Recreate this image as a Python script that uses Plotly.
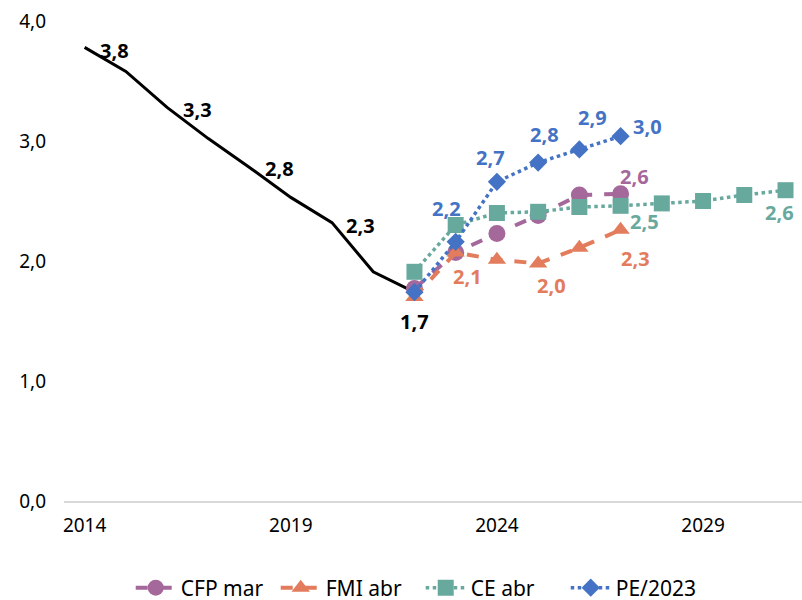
import plotly.graph_objects as go

# ---- data ----
hist_years = [2014, 2015, 2016, 2017, 2018, 2019, 2020, 2021, 2022]
hist_vals = [3.78, 3.58, 3.28, 3.02, 2.78, 2.53, 2.32, 1.91, 1.74]

cfp_years = [2022, 2023, 2024, 2025, 2026, 2027]
cfp_vals = [1.77, 2.07, 2.23, 2.38, 2.55, 2.56]

fmi_years = [2022, 2023, 2024, 2025, 2026, 2027]
fmi_vals = [1.70, 2.07, 2.01, 1.98, 2.11, 2.26]

ce_years = [2022, 2023, 2024, 2025, 2026, 2027, 2028, 2029, 2030, 2031]
ce_vals = [1.91, 2.30, 2.40, 2.41, 2.45, 2.46, 2.48, 2.50, 2.55, 2.59]

pe_years = [2022, 2023, 2024, 2025, 2026, 2027]
pe_vals = [1.74, 2.16, 2.66, 2.82, 2.93, 3.04]

x_ticks = [2014, 2019, 2024, 2029]
y_ticks = [0, 1, 2, 3, 4]

FONT = "Noto Sans"
C_BLACK = "#000000"
C_CFP = "#A5689B"
C_FMI = "#E27C5C"
C_CE = "#68A99E"
C_PE = "#4472C4"

fig = go.Figure()

fig.add_trace(go.Scatter(x=hist_years, y=hist_vals, mode="lines",
                         line=dict(color=C_BLACK, width=3), showlegend=False,
                         hoverinfo="skip"))
fig.add_trace(go.Scatter(x=cfp_years, y=cfp_vals, mode="lines+markers", name="CFP mar",
                         line=dict(color=C_CFP, width=4, dash="dash"),
                         marker=dict(symbol="circle", size=17, color=C_CFP)))
fig.add_trace(go.Scatter(x=fmi_years, y=fmi_vals, mode="lines+markers", name="FMI abr",
                         line=dict(color=C_FMI, width=4, dash="dash"),
                         marker=dict(symbol="triangle-up", size=16, color=C_FMI)))
fig.add_trace(go.Scatter(x=ce_years, y=ce_vals, mode="lines+markers", name="CE abr",
                         line=dict(color=C_CE, width=3.5, dash="dot"),
                         marker=dict(symbol="square", size=16, color=C_CE)))
fig.add_trace(go.Scatter(x=pe_years, y=pe_vals, mode="lines+markers", name="PE/2023",
                         line=dict(color=C_PE, width=3.5, dash="dot"),
                         marker=dict(symbol="diamond", size=14, color=C_PE)))

def fmt(v):
    return f"{v:.1f}".replace(".", ",")

# label placements: (series years, values, color, {year: (xshift, yshift)})
label_specs = [
    (hist_years, hist_vals, C_BLACK, {2014: (30, -3), 2016: (30, -2), 2018: (30, -1), 2020: (29, -3), 2022: (0, -29)}),
    (cfp_years, cfp_vals, C_CFP, {2027: (14, 17)}),
    (fmi_years, fmi_vals, C_FMI, {2023: (12, -24), 2025: (13, -22), 2027: (15, -29)}),
    (ce_years, ce_vals, C_CE, {2027: (24, -16), 2031: (-6, -22)}),
    (pe_years, pe_vals, C_PE, {2023: (-9, 33), 2024: (-6, 24), 2025: (6, 28), 2026: (13, 32), 2027: (27, 10)}),
]
for yrs, vals, col, places in label_specs:
    for yr, v in zip(yrs, vals):
        if yr in places:
            dx, dy = places[yr]
            fig.add_annotation(x=yr, y=v, text=f"<b>{fmt(v)}</b>", showarrow=False,
                               xshift=dx, yshift=dy,
                               font=dict(family=FONT, size=20, color=col))

fig.update_layout(
    width=802, height=600,
    margin=dict(l=64, r=0, t=21, b=99, autoexpand=False),
    paper_bgcolor="white", plot_bgcolor="white",
    separators=",.",
    font=dict(family=FONT, size=19, color="#000000"),
    showlegend=True,
    legend=dict(orientation="h", xref="container", x=0.163, xanchor="left",
                yref="container", y=0.02, yanchor="middle",
                itemwidth=40, entrywidth=90, entrywidthmode="pixels",
                font=dict(family=FONT, size=21), tracegroupgap=0),
)
fig.update_xaxes(range=[2013.5, 2031.4], tickvals=x_ticks, ticktext=[str(t) for t in x_ticks],
                 showgrid=False, zeroline=False, showline=True, linecolor="#D9D9D9", linewidth=1.5,
                 ticks="", ticklabelstandoff=6, automargin=False, tickfont=dict(family=FONT, size=19))
fig.update_yaxes(range=[0, 4], tickvals=y_ticks, tickformat=".1f", showgrid=False,
                 zeroline=False, showline=False, ticks="", ticklabelstandoff=17, automargin=False,
                 tickfont=dict(family=FONT, size=19))

fig.write_html("out.html", config={"displayModeBar": False},
               post_script="document.body.style.margin='0';document.body.style.padding='0';")
